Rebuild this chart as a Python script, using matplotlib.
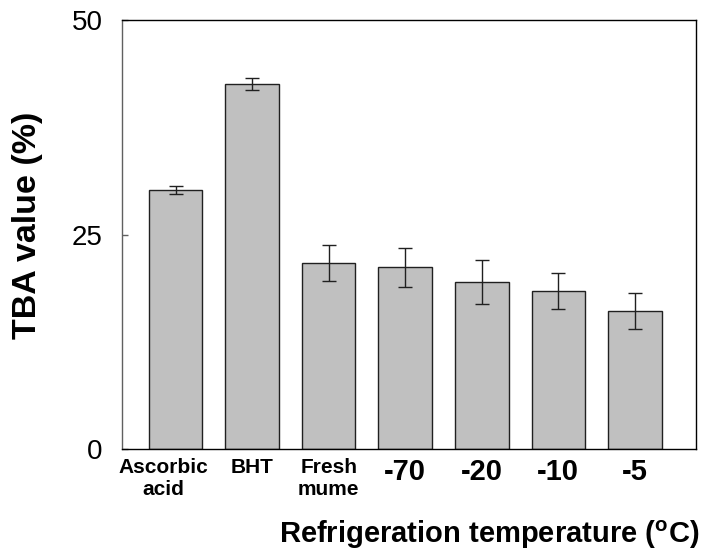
import matplotlib
matplotlib.use("Agg")
import matplotlib.pyplot as plt
import matplotlib.transforms as mtransforms

plt.rcParams['font.family'] = ['Liberation Sans', 'DejaVu Sans']
plt.rcParams['mathtext.fontset'] = 'custom'
plt.rcParams['mathtext.rm'] = 'Liberation Sans'
plt.rcParams['mathtext.bf'] = 'Liberation Sans:bold'

categories = ["Ascorbic\nacid", "BHT", "Fresh\nmume", "-70", "-20", "-10", "-5"]
values = [30.2, 42.6, 21.7, 21.2, 19.5, 18.4, 16.1]
errors = [0.5, 0.7, 2.1, 2.3, 2.6, 2.1, 2.1]
yticks = [0, 25, 50]

fig = plt.figure(figsize=(7.01, 5.52), dpi=100)
ax = fig.add_axes([0.174, 0.1857, 0.819, 0.7781])

x = list(range(len(categories)))
ax.bar(x, values, width=0.7, color='#C0C0C0', edgecolor='#202020', linewidth=1.0, zorder=2)
ax.errorbar(x, values, yerr=errors, fmt='none', ecolor='#202020', elinewidth=1.0,
            capsize=4.8, capthick=1.0, zorder=3)

ax.set_xlim(-0.7, 6.8)
ax.set_ylim(0, 50)
ax.set_yticks(yticks)
ax.set_yticklabels([str(v) for v in yticks], fontsize=20)
ax.tick_params(axis='y', direction='in', length=4.5, width=1, pad=14, color='#606060')
ax.set_xticks(x)
labels = ax.set_xticklabels(categories)
for i, lab in enumerate(labels):
    lab.set_fontweight('bold')
    if i < 3:
        lab.set_fontsize(15)
        lab.set_linespacing(1.2)
    else:
        lab.set_fontsize(21)
ax.tick_params(axis='x', length=0, pad=6)
labels[0].set_transform(labels[0].get_transform() +
                        mtransforms.ScaledTranslation(-12 / 100, 0, fig.dpi_scale_trans))

for side in ['top', 'right', 'bottom']:
    ax.spines[side].set_color('black')
    ax.spines[side].set_linewidth(1.0)
ax.spines['left'].set_color('#606060')
ax.spines['left'].set_linewidth(1.0)

ax.set_ylabel('TBA value (%)', fontsize=24.5, fontweight='bold')
ax.yaxis.set_label_coords(-0.137, 0.523)
ax.set_xlabel(r'Refrigeration temperature ($\mathbf{^{o}}$C)', fontsize=21,
              fontweight='bold', ha='right')
ax.xaxis.set_label_coords(1.005, -0.199)
ax.xaxis.label.set_verticalalignment('center')

fig.savefig('out.png', dpi=100)
